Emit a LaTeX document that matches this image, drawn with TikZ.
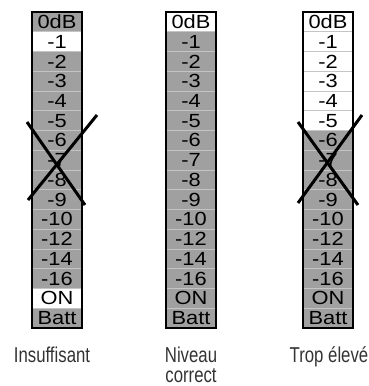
\documentclass[tikz,border=0pt]{standalone}
\usepackage{fontspec}
\usepackage{graphicx}
\setmainfont{Liberation Sans}
\newfontfamily\labfont{Liberation Sans}
\definecolor{cellgray}{HTML}{A0A0A0}
\definecolor{sepgray}{HTML}{C4C4C4}
\definecolor{labgray}{HTML}{333333}
\tikzset{
  cell/.style={minimum width=50pt, minimum height=19.75pt, inner sep=0pt, outer sep=0pt,
    font=\fontsize{19}{19}\selectfont, anchor=north west},
  grayc/.style={cell, fill=cellgray},
  whitec/.style={cell, fill=white},
  frame/.style={draw=black, line width=1.6pt},
  sepline/.style={draw=sepgray, line width=0.8pt},
  crossline/.style={draw=black, line width=3pt},
  lab/.style={font=\fontsize{21.5}{22}\selectfont\labfont, text=labgray, align=center, inner sep=0pt}
}
\newcommand{\st}[1]{\scalebox{1.15}[1]{#1}}
\begin{document}
\begin{tikzpicture}[x=1pt,y=-1pt]
\useasboundingbox (0,0) rectangle (369,386);
\def\labels{0dB,-1,-2,-3,-4,-5,-6,-7,-8,-9,-10,-12,-14,-16,ON,Batt}
% column A (Insuffisant): white rows 2 (-1) and 15 (ON)
\foreach \t [count=\i] in \labels {
  \pgfmathsetmacro{\yy}{12+(\i-1)*19.75}
  \ifnum\i=2 \def\sty{whitec}\else\ifnum\i=15 \def\sty{whitec}\else\def\sty{grayc}\fi\fi
  \node[\sty] (a\i) at (32,\yy) {\st{\t}};
}
% column B (Niveau correct): white row 1
\foreach \t [count=\i] in \labels {
  \pgfmathsetmacro{\yy}{12+(\i-1)*19.75}
  \ifnum\i=1 \def\sty{whitec}\else\def\sty{grayc}\fi
  \node[\sty] (b\i) at (166,\yy) {\st{\t}};
}
% column C (Trop eleve): white rows 1..6
\foreach \t [count=\i] in \labels {
  \pgfmathsetmacro{\yy}{12+(\i-1)*19.75}
  \ifnum\i<7 \def\sty{whitec}\else\def\sty{grayc}\fi
  \node[\sty] (c\i) at (303,\yy) {\st{\t}};
}
% separators
\foreach \c in {a,b,c}{
  \foreach \i in {2,...,16}{
    \draw[sepline] (\c\i.north west) -- (\c\i.north east);
  }
  \draw[frame] (\c1.north west) rectangle (\c16.south east);
}
% crosses
\coordinate (xa1) at (27,122); \coordinate (xa2) at (85,205);
\coordinate (xa3) at (97,115); \coordinate (xa4) at (28,200);
\draw[crossline] (xa1) -- (xa2);
\draw[crossline] (xa3) -- (xa4);
\coordinate (xc1) at (298,122); \coordinate (xc2) at (358,205);
\coordinate (xc3) at (362,115); \coordinate (xc4) at (298,203);
\draw[crossline] (xc1) -- (xc2);
\draw[crossline] (xc3) -- (xc4);
% labels
\node[lab, anchor=base] (l1) at (52,362) {\scalebox{0.78}[1]{Insuffisant}};
\node[lab, anchor=base] (l2) at (191,362) {\scalebox{0.78}[1]{Niveau}};
\node[lab, anchor=base] (l3) at (191,382) {\scalebox{0.78}[1]{correct}};
\node[lab, anchor=base] (l4) at (329,362) {\scalebox{0.78}[1]{Trop élevé}};
\end{tikzpicture}
\end{document}
